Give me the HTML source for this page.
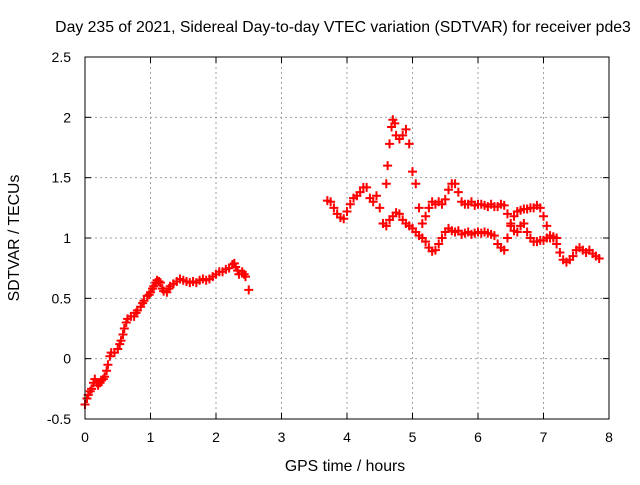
<!DOCTYPE html>
<html><head><meta charset="utf-8"><style>
body{margin:0;background:#fff}
svg text{font-family:"Liberation Sans",sans-serif;font-size:14px;fill:#000}
svg text.big{font-size:15.8px}
</style></head><body>
<svg id="chart" width="640" height="480" viewBox="0 0 640 480" xmlns="http://www.w3.org/2000/svg">
<rect width="640" height="480" fill="#fff"/>
<text class="big" x="343" y="32" text-anchor="middle">Day 235 of 2021, Sidereal Day-to-day VTEC variation (SDTVAR) for receiver pde3</text>
<text class="big" transform="translate(19,238) rotate(-90)" text-anchor="middle">SDTVAR / TECUs</text>
<text class="big" x="345" y="471" text-anchor="middle">GPS time / hours</text>
<g id="grid"></g>
<g id="marks"></g>
<rect x="85" y="57" width="524" height="362" fill="none" stroke="#000" stroke-width="1"/>
</svg>
<script>
const xTicks=[0,1,2,3,4,5,6,7,8];
const yTicks=[-0.5,0,0.5,1,1.5,2,2.5];
const yTickLabels=["-0.5","0","0.5","1","1.5","2","2.5"];
const seriesA=[[0,-0.38],[0.03,-0.33],[0.05,-0.3],[0.08,-0.27],[0.1,-0.25],[0.13,-0.2],[0.15,-0.17],[0.18,-0.2],[0.2,-0.22],[0.23,-0.2],[0.25,-0.18],[0.28,-0.17],[0.3,-0.15],[0.33,-0.1],[0.35,-0.05],[0.38,0.02],[0.4,0.05],[0.45,0.05],[0.5,0.08],[0.53,0.12],[0.55,0.15],[0.58,0.2],[0.6,0.25],[0.63,0.3],[0.65,0.33],[0.7,0.35],[0.75,0.35],[0.78,0.38],[0.8,0.4],[0.85,0.43],[0.88,0.46],[0.9,0.48],[0.95,0.52],[0.98,0.53],[1.0,0.55],[1.03,0.58],[1.05,0.6],[1.08,0.63],[1.1,0.65],[1.13,0.64],[1.15,0.63],[1.18,0.58],[1.2,0.56],[1.25,0.55],[1.28,0.58],[1.3,0.6],[1.35,0.62],[1.4,0.64],[1.45,0.66],[1.5,0.65],[1.55,0.64],[1.6,0.63],[1.65,0.64],[1.7,0.63],[1.75,0.65],[1.8,0.66],[1.85,0.65],[1.9,0.66],[1.95,0.68],[2.0,0.7],[2.05,0.72],[2.1,0.72],[2.15,0.74],[2.2,0.75],[2.25,0.78],[2.28,0.79],[2.3,0.76],[2.33,0.73],[2.35,0.7],[2.4,0.72],[2.43,0.7],[2.45,0.68],[2.5,0.57]];
const seriesB=[[3.70,1.31],[3.75,1.30],[3.80,1.25],[3.85,1.20],[3.90,1.17],[3.95,1.16],[4.00,1.22],[4.05,1.28],[4.10,1.33],[4.15,1.35],[4.20,1.38],[4.25,1.42],[4.30,1.42],[4.35,1.33],[4.40,1.30],[4.45,1.35],[4.50,1.25],[4.55,1.12],[4.60,1.10],[4.65,1.15],[4.70,1.18],[4.75,1.21],[4.80,1.20],[4.85,1.15],[4.90,1.12],[4.95,1.10],[5.00,1.08],[5.05,1.05],[5.10,1.02],[5.15,1.00],[5.20,0.97],[5.25,0.92],[5.30,0.89],[5.35,0.90],[5.40,0.95],[5.45,1.00],[5.50,1.05],[5.55,1.08],[5.60,1.06],[5.65,1.05],[5.70,1.06],[5.75,1.03],[5.80,1.04],[5.85,1.05],[5.90,1.03],[5.95,1.04],[6.00,1.05],[6.05,1.04],[6.10,1.05],[6.15,1.04],[6.20,1.03],[6.25,1.02],[6.30,0.95],[6.35,0.92],[6.40,0.90],[6.45,1.00],[6.50,1.12],[6.55,1.18],[6.60,1.22],[6.65,1.23],[6.70,1.24],[6.75,1.24],[6.80,1.25],[6.85,1.25],[6.90,1.27],[6.95,1.25],[7.00,1.18],[7.05,1.10],[7.10,1.02],[7.15,1.01],[7.20,0.95],[7.25,0.88],[7.30,0.82],[7.35,0.80],[7.40,0.82],[7.45,0.85],[7.50,0.90],[7.55,0.92],[7.60,0.90],[7.65,0.88],[7.70,0.90],[7.75,0.87],[7.80,0.85],[7.85,0.83]];
const seriesC=[[4.60,1.45],[4.62,1.60],[4.65,1.78],[4.68,1.92],[4.70,1.98],[4.73,1.95],[4.75,1.85],[4.80,1.82],[4.85,1.85],[4.90,1.90],[4.95,1.78],[5.00,1.55],[5.05,1.45],[5.10,1.25],[5.15,1.12],[5.20,1.18],[5.25,1.25],[5.30,1.30],[5.35,1.28],[5.40,1.30],[5.45,1.28],[5.50,1.32],[5.55,1.40],[5.60,1.45],[5.65,1.45],[5.70,1.38],[5.75,1.30],[5.80,1.28],[5.85,1.28],[5.90,1.30],[5.95,1.27],[6.00,1.28],[6.05,1.28],[6.10,1.27],[6.15,1.26],[6.20,1.28],[6.25,1.26],[6.30,1.26],[6.35,1.28],[6.40,1.27],[6.45,1.20],[6.50,1.10],[6.55,1.06],[6.60,1.05],[6.65,1.10],[6.70,1.12],[6.75,1.05],[6.80,1.00],[6.85,0.97],[6.90,0.97],[6.95,0.98],[7.00,0.98],[7.05,1.00],[7.10,1.00],[7.15,1.00],[7.20,1.00]];

const NS="http://www.w3.org/2000/svg";
const X0=85,X1=609,Y0=419,Y1=57;
function sx(v){return X0+(v-0)/(8-0)*(X1-X0);}
function sy(v){return Y0-(v+0.5)/(2.5+0.5)*(Y0-Y1);}
function mk(tag,attrs,parent){const e=document.createElementNS(NS,tag);for(const k in attrs)e.setAttribute(k,attrs[k]);parent.appendChild(e);return e;}
const grid=document.getElementById('grid');
xTicks.forEach((t,i)=>{
  const x=sx(t);
  if(i>0&&i<xTicks.length-1){
    const l=mk('line',{x1:x,y1:Y0,x2:x,y2:Y1,stroke:'#a0a0a0','stroke-dasharray':'2,3'},grid);
    
    
  }
  mk('line',{x1:x,y1:Y0,x2:x,y2:Y0-6,stroke:'#000'},grid);
  mk('line',{x1:x,y1:Y1,x2:x,y2:Y1+6,stroke:'#000'},grid);
  const tx=mk('text',{x:x,y:Y0+23,'text-anchor':'middle'},grid);
  tx.textContent=String(t);
  
  
});
yTicks.forEach((t,i)=>{
  const y=sy(t);
  if(i>0&&i<yTicks.length-1){
    const l=mk('line',{x1:X0,y1:y,x2:X1,y2:y,stroke:'#a0a0a0','stroke-dasharray':'2,3'},grid);
    
    
  }
  mk('line',{x1:X0,y1:y,x2:X0+6,y2:y,stroke:'#000'},grid);
  mk('line',{x1:X1,y1:y,x2:X1-6,y2:y,stroke:'#000'},grid);
  const tx=mk('text',{x:X0-14,y:y+5,'text-anchor':'end'},grid);
  tx.textContent=yTickLabels[i];
  
  
});
const marks=document.getElementById('marks');
[seriesA,seriesB,seriesC].forEach(s=>{
  s.forEach(p=>{
    const x=sx(p[0]),y=sy(p[1]);
    const m=mk('path',{d:`M${x-4.5},${y}H${x+4.5}M${x},${y-4.5}V${y+4.5}`,stroke:'#ff0000','stroke-width':'2',fill:'none'},marks);
    
    
  });
});
</script>
</body></html>
